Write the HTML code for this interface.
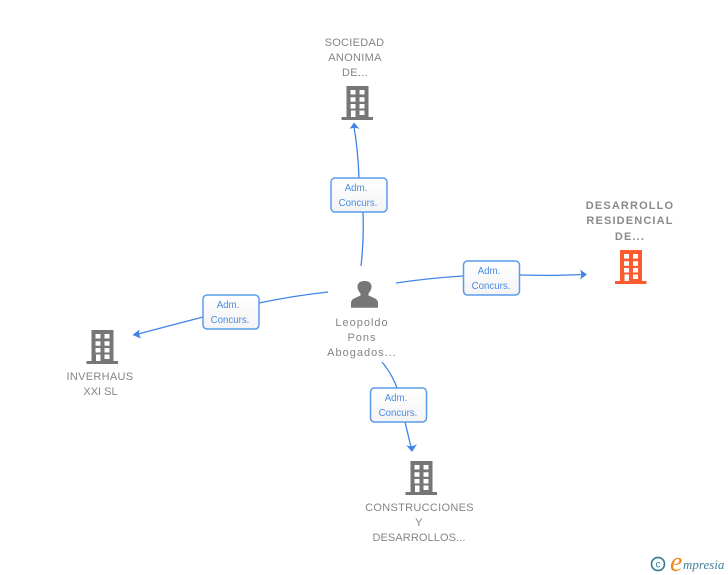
<!DOCTYPE html>
<html>
<head>
<meta charset="utf-8">
<style>
html,body{margin:0;padding:0;background:#fff}
svg{display:block}
.n{font-family:"Liberation Sans",sans-serif;font-size:11px;fill:#858585;text-anchor:middle;letter-spacing:.3px}
.b{font-weight:bold;fill:#8a8a8a;letter-spacing:1.15px}
.p{letter-spacing:1px}
.l{font-family:"Liberation Sans",sans-serif;font-size:9.7px;fill:#4a8be6;text-anchor:middle}
.c{fill:none;stroke:#3f84e5;stroke-width:1.3}
.box{fill:url(#g);stroke:#5c9bec;stroke-width:1.5}
</style>
</head>
<body>
<svg width="728" height="575" viewBox="0 0 728 575" xmlns="http://www.w3.org/2000/svg">
<defs>
<linearGradient id="g" x1="0" y1="0" x2="0" y2="1"><stop offset="0" stop-color="#fff"/><stop offset="1" stop-color="#f4f4f4"/></linearGradient>
<path id="bld" fill-rule="evenodd" d="M5 0H27V31H31.500V34H0V31H5ZM9 4V8.500H14V4ZM18 4V8.500H23V4ZM9 11.300V15.800H14V11.300ZM18 11.300V15.800H23V11.300ZM9 18V22.500H14V18ZM18 18V22.500H23V18ZM9.500 24.500V31H14V24.500ZM18 24.500V29H23V24.500Z"/>
</defs>

<path class="c" d="M361 266Q364 240 363 212"/>
<path class="c" d="M359 178Q358 150 354 127"/>
<path fill="#3f84e5" d="M354 122.500L359.500 129Q354 126.500 349.500 129Z"/>

<path class="c" d="M396 283Q430 278 463 276"/>
<path class="c" d="M520 275Q555 276 581 274.500"/>
<path fill="#3f84e5" d="M587 274.500L580 269.500Q582.500 274.500 580 279.500Z"/>

<path class="c" d="M328 292Q292 296 259 303"/>
<path class="c" d="M203 317L138 334"/>
<path fill="#3f84e5" d="M132.500 335L139.500 329.500Q138 334 141 338.500Z"/>

<path class="c" d="M382 362Q392 374 397 388"/>
<path class="c" d="M405 422L411 447"/>
<path fill="#3f84e5" d="M412 452L406 445Q411 448 417 444Z"/>

<rect class="box" x="331" y="178" width="56" height="34" rx="4"/>
<text class="l" x="356" y="191">Adm.</text>
<text class="l" x="358" y="206">Concurs.</text>

<rect class="box" x="463.500" y="261" width="56" height="34" rx="4"/>
<text class="l" x="489" y="274">Adm.</text>
<text class="l" x="491" y="289">Concurs.</text>

<rect class="box" x="203" y="295" width="56" height="34" rx="4"/>
<text class="l" x="228" y="308">Adm.</text>
<text class="l" x="230" y="323">Concurs.</text>

<rect class="box" x="370.500" y="388" width="56" height="34" rx="4"/>
<text class="l" x="396" y="401">Adm.</text>
<text class="l" x="398" y="416">Concurs.</text>

<use href="#bld" x="341.500" y="86" fill="#767676"/>
<use href="#bld" x="615" y="250" fill="#fc5a2f"/>
<use href="#bld" x="86.500" y="330" fill="#767676"/>
<use href="#bld" x="405.500" y="461" fill="#767676"/>

<path fill="#767676" d="M351 307.800V303Q351 299.500 355 298L360.500 295.500V293.500Q357.500 290 357.500 287Q357.500 281 364.500 281Q371.500 281 371.500 287Q371.500 290 368.500 293.500V295.500L374 298Q378 299.500 378 303V307.800Z"/>

<text class="n" x="354.500" y="46">SOCIEDAD</text>
<text class="n" x="355" y="61">ANONIMA</text>
<text class="n" x="355" y="76">DE...</text>

<text class="n b" x="630" y="209">DESARROLLO</text>
<text class="n b" x="630" y="224">RESIDENCIAL</text>
<text class="n b" x="630" y="240">DE...</text>

<text class="n" x="100" y="380">INVERHAUS</text>
<text class="n" x="100.500" y="395" style="letter-spacing:0">XXI SL</text>

<text class="n p" x="362" y="326">Leopoldo</text>
<text class="n p" x="362" y="341">Pons</text>
<text class="n p" x="362" y="356">Abogados...</text>

<text class="n" x="419.500" y="511">CONSTRUCCIONES</text>
<text class="n" x="419" y="526">Y</text>
<text class="n" x="419" y="541" style="letter-spacing:.1px">DESARROLLOS...</text>

<circle cx="658" cy="564" r="6.500" fill="none" stroke="#3f7f9a" stroke-width="1.700"/>
<text x="658" y="567.500" font-family="Liberation Sans,sans-serif" font-size="10" fill="#3f7f9a" text-anchor="middle">c</text>
<text x="670" y="571" font-family="Liberation Serif,serif" font-style="italic" font-size="28" fill="#f08a1d">e</text>
<text x="683" y="569" font-family="Liberation Serif,serif" font-style="italic" font-size="13" fill="#3f7f9a">mpresia</text>
</svg>
</body>
</html>
